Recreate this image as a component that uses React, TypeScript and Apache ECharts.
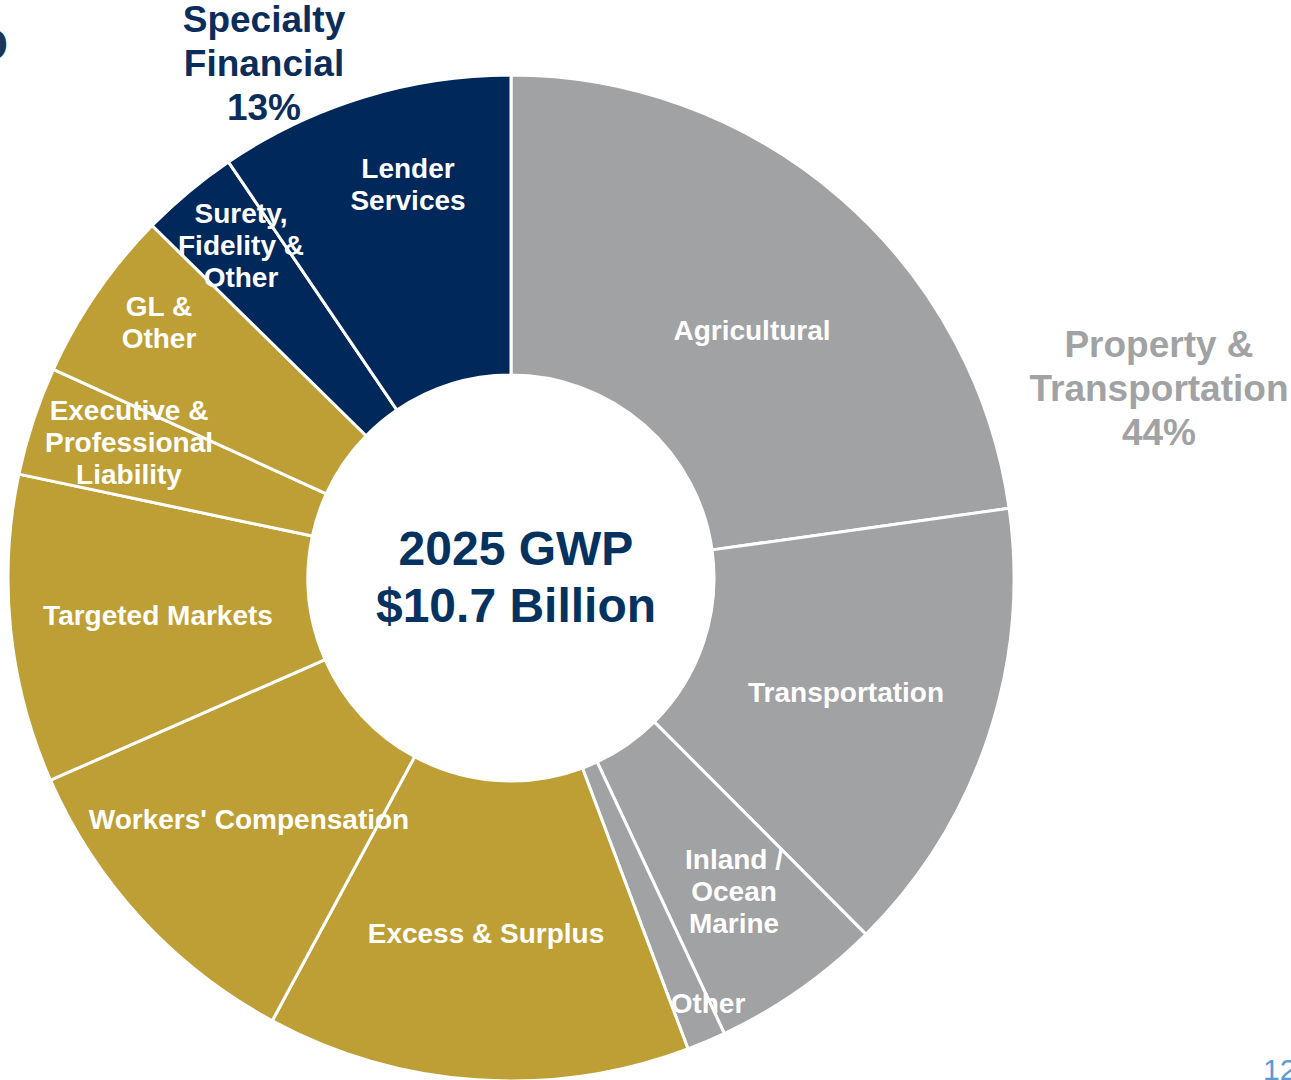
import React, { useEffect, useRef } from "react";
import * as echarts from "echarts";

// ---- Data (share of 2025 GWP, %) ----
const CATEGORIES = [
  "Agricultural",
  "Transportation",
  "Inland / Ocean Marine",
  "Other",
  "Excess & Surplus",
  "Workers' Compensation",
  "Targeted Markets",
  "Executive & Professional Liability",
  "GL & Other",
  "Surety, Fidelity & Other",
  "Lender Services",
];
const VALUES = [22.8, 14.75, 5.5, 1.25, 13.6, 10.55, 9.9, 3.5, 5.55, 3.15, 9.5];
const SEGMENT = [
  "Property & Transportation",
  "Property & Transportation",
  "Property & Transportation",
  "Property & Transportation",
  "Specialty Casualty",
  "Specialty Casualty",
  "Specialty Casualty",
  "Specialty Casualty",
  "Specialty Casualty",
  "Specialty Financial",
  "Specialty Financial",
];
const LABEL_LINES = [
  "Agricultural",
  "Transportation",
  "Inland /\nOcean\nMarine",
  "Other",
  "Excess & Surplus",
  "Workers' Compensation",
  "Targeted Markets",
  "Executive &\nProfessional\nLiability",
  "GL &\nOther",
  "Surety,\nFidelity &\nOther",
  "Lender\nServices",
];
const CENTER_TITLE = ["2025 GWP", "$10.7 Billion"];
const PAGE_NUMBER = "12";

// ---- Styles / layout (not data) ----
const SEGMENT_COLORS: Record<string, string> = {
  "Property & Transportation": "#A1A2A4",
  "Specialty Casualty": "#BD9F35",
  "Specialty Financial": "#00285A",
};
const LABEL_POS: [number, number][] = [
  [752, 330],
  [846, 692],
  [734, 891],
  [708, 1003],
  [486, 933],
  [249, 819],
  [158, 615],
  [129, 442],
  [159, 322],
  [241, 245],
  [408, 184],
];
const FONT = "'Liberation Sans', Arial, Helvetica, sans-serif";

function segmentPct(seg: string): string {
  const total = VALUES.reduce((a, b) => a + b, 0);
  const s = VALUES.reduce((a, v, i) => (SEGMENT[i] === seg ? a + v : a), 0);
  return Math.round((s / total) * 100) + "%";
}

export default function App() {
  const ref = useRef<HTMLDivElement>(null);
  useEffect(() => {
    document.body.style.margin = "0";
    const chart = echarts.init(ref.current!, undefined, { renderer: "svg" });
    const option: any = {
      animation: false,
      backgroundColor: "#ffffff",
      series: [
        {
          type: "pie",
          center: [511, 578],
          radius: [203, 503],
          startAngle: 90,
          clockwise: true,
          avoidLabelOverlap: false,
          silent: true,
          itemStyle: { borderColor: "#ffffff", borderWidth: 3 },
          label: {
            show: true,
            position: "inside",
            rotate: 0,
            color: "#ffffff",
            fontFamily: FONT,
            fontWeight: "bold",
            fontSize: 28,
            lineHeight: 32,
            align: "center",
            formatter: (p: any) => LABEL_LINES[p.dataIndex],
          },
          labelLine: { show: false },
          labelLayout: (p: any) => ({
            x: LABEL_POS[p.dataIndex][0],
            y: LABEL_POS[p.dataIndex][1],
            align: "center",
            verticalAlign: "middle",
          }),
          data: CATEGORIES.map((name, i) => ({
            name,
            value: VALUES[i],
            itemStyle: { color: SEGMENT_COLORS[SEGMENT[i]] },
          })),
        },
      ],
      graphic: [
        {
          type: "text",
          x: 516,
          y: 577,
          style: {
            text: CENTER_TITLE.join("\n"),
            fill: "#06325F",
            font: `bold 48px ${FONT}`,
            lineHeight: 57,
            align: "center",
            verticalAlign: "middle",
          },
        },
        {
          type: "text",
          x: 264,
          y: 63,
          style: {
            text: "Specialty\nFinancial\n" + segmentPct("Specialty Financial"),
            fill: "#0B2D5C",
            font: `bold 37px ${FONT}`,
            lineHeight: 44,
            align: "center",
            verticalAlign: "middle",
          },
        },
        {
          type: "text",
          x: 1159,
          y: 388,
          style: {
            text: "Property &\nTransportation\n" + segmentPct("Property & Transportation"),
            fill: "#A1A2A4",
            font: `bold 37px ${FONT}`,
            lineHeight: 44,
            align: "center",
            verticalAlign: "middle",
          },
        },
        {
          type: "text",
          x: 8,
          y: 44,
          style: {
            text: "O",
            fill: "#1B3656",
            font: `bold 44px ${FONT}`,
            align: "right",
            verticalAlign: "middle",
          },
        },
        {
          type: "text",
          x: 1263,
          y: 1069,
          style: {
            text: PAGE_NUMBER,
            fill: "#5B9BD5",
            font: `30px ${FONT}`,
            align: "left",
            verticalAlign: "middle",
          },
        },
      ],
    };
    chart.setOption(option);
    return () => chart.dispose();
  }, []);
  return (
    <div
      ref={ref}
      style={{ position: "fixed", left: 0, top: 0, width: 1291, height: 1080 }}
    />
  );
}
